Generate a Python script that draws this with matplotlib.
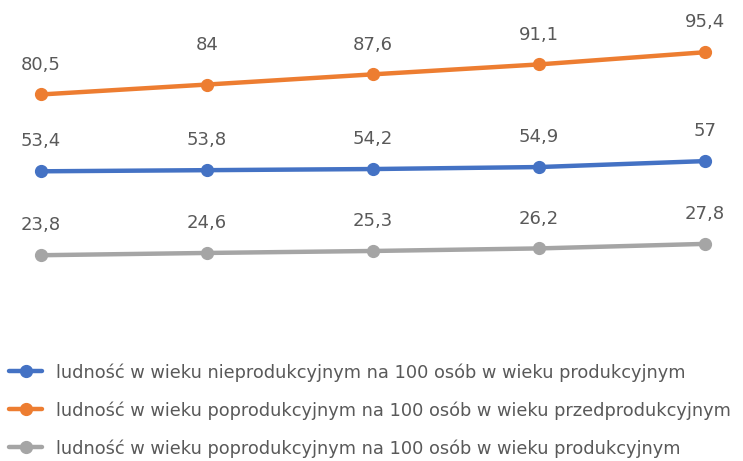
import matplotlib
matplotlib.use("Agg")
import matplotlib.pyplot as plt

points = [0, 1, 2, 3, 4]
nieprod = [53.4, 53.8, 54.2, 54.9, 57.0]
poprod_przed = [80.5, 84.0, 87.6, 91.1, 95.4]
poprod_prod = [23.8, 24.6, 25.3, 26.2, 27.8]

labels = [
    "ludność w wieku nieprodukcyjnym na 100 osób w wieku produkcyjnym",
    "ludność w wieku poprodukcyjnym na 100 osób w wieku przedprodukcyjnym",
    "ludność w wieku poprodukcyjnym na 100 osób w wieku produkcyjnym",
]
colours = ["#4472C4", "#ED7D31", "#A5A5A5"]
text_col = "#595959"

fig = plt.figure(figsize=(7.43, 4.61), dpi=100)
ax = fig.add_axes([41 / 743, 0.300, 664 / 743, 0.615])

for vals, lab, col in zip([nieprod, poprod_przed, poprod_prod], labels, colours):
    ax.plot(points, vals, color=col, lw=3.2, marker="o", ms=8.5,
            label=lab, clip_on=False, solid_capstyle="round")
    for x, v in zip(points, vals):
        txt = f"{v:g}".replace(".", ",")
        # the "84" label sits a bit higher in the original
        dy = 22 if txt == "84" else 15
        ax.annotate(txt, (x, v), xytext=(0, dy), textcoords="offset points",
                    ha="center", va="bottom", fontsize=13, color=text_col)

ax.set_xlim(0, 4)
ax.set_ylim(0, 100)
ax.axis("off")

fig.legend(loc="upper left", bbox_to_anchor=(0.003, 0.228), frameon=False,
           fontsize=12.8, labelcolor=text_col, handlelength=1.85,
           handletextpad=0.75, labelspacing=1.1, borderaxespad=0)

fig.savefig("out.png", dpi=100)
